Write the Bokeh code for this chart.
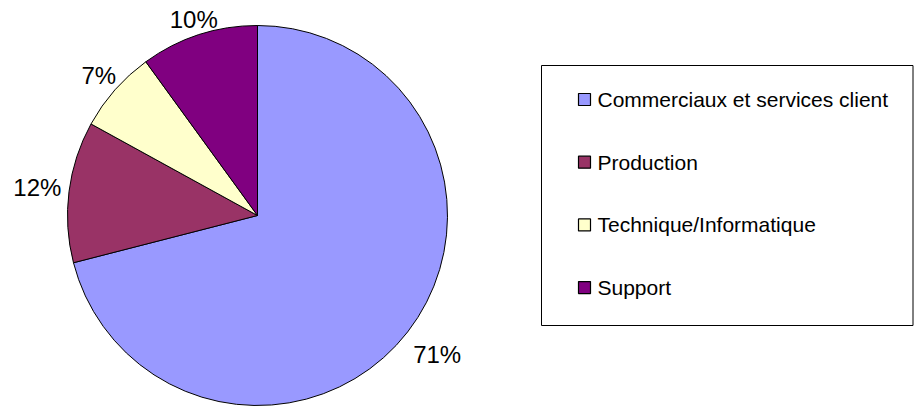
import math
from bokeh.plotting import figure
from bokeh.models import ColumnDataSource, Range1d
from bokeh.core.properties import value
from bokeh.embed import file_html
from bokeh.resources import INLINE

# ---- data ----
categories = ["Commerciaux et services client", "Production", "Technique/Informatique", "Support"]
shares = [71, 12, 7, 10]
labels = ["71%", "12%", "7%", "10%"]
colors = ["#9999FF", "#993366", "#FFFFCC", "#800080"]

# ---- layout (data x = page x, data y = H - page y) ----
W, H = 914, 406
cx, cy, R = 257, 191, 190
FONT = "Liberation Sans"

total = float(sum(shares))
starts, ends, lx, ly = [], [], [], []
acc = 0.0
for s, lab in zip(shares, labels):
    a0 = math.pi / 2 - 2 * math.pi * acc / total
    a1 = math.pi / 2 - 2 * math.pi * (acc + s) / total
    starts.append(a0)
    ends.append(a1)
    mid = (a0 + a1) / 2
    c, sn = math.cos(mid), math.sin(mid)
    w = 24 * (0.556 * (len(lab) - 1) + 0.889)
    h = 18
    g = 8 - 8 * sn
    d = R + g + (w / 2) * abs(c) + (h / 2) * abs(sn)
    lx.append(cx + d * c)
    ly.append(cy + d * sn)
    acc += s

src = ColumnDataSource(dict(cat=categories, start=starts, end=ends, color=colors,
                            lx=lx, ly=ly, label=labels))

p = figure(width=W, height=H, output_backend="svg", toolbar_location=None,
           x_range=Range1d(0, W), y_range=Range1d(0, H),
           min_border=0, min_border_left=0, min_border_right=0,
           min_border_top=0, min_border_bottom=0)
p.axis.visible = False
p.grid.visible = False
p.outline_line_color = None
p.background_fill_color = "white"
p.border_fill_color = "white"

p.wedge(x=cx, y=cy, radius=R, start_angle="start", end_angle="end",
        direction="clock", fill_color="color", line_color="black",
        line_width=1, source=src)

p.text(x="lx", y="ly", text="label", source=src, text_align="center",
       text_baseline="middle", text_font=value(FONT),
       text_font_size=value("24px"), text_color="black")

# ---- legend drawn from the category list ----
leg_left, leg_right, leg_top, leg_bottom = 541, 912.5, 341, 81
p.quad(left=[leg_left], right=[leg_right], top=[leg_top], bottom=[leg_bottom],
       fill_color="white", line_color="black", line_width=1)
row0, step = leg_top - 34, 62.7
ry = [row0 - i * step for i in range(len(categories))]
lsrc = ColumnDataSource(dict(cat=categories, color=colors, y=ry,
                             sq_top=[v + 6 for v in ry], sq_bot=[v - 6 for v in ry]))
p.quad(left=578, right=590, top="sq_top", bottom="sq_bot", fill_color="color",
       line_color="black", line_width=1.2, source=lsrc)
p.text(x=597, y="y", text="cat", source=lsrc, text_align="left",
       text_baseline="middle", text_font=value(FONT),
       text_font_size=value("21px"), text_color="black")

open("out.html", "w").write(file_html(p, INLINE))
